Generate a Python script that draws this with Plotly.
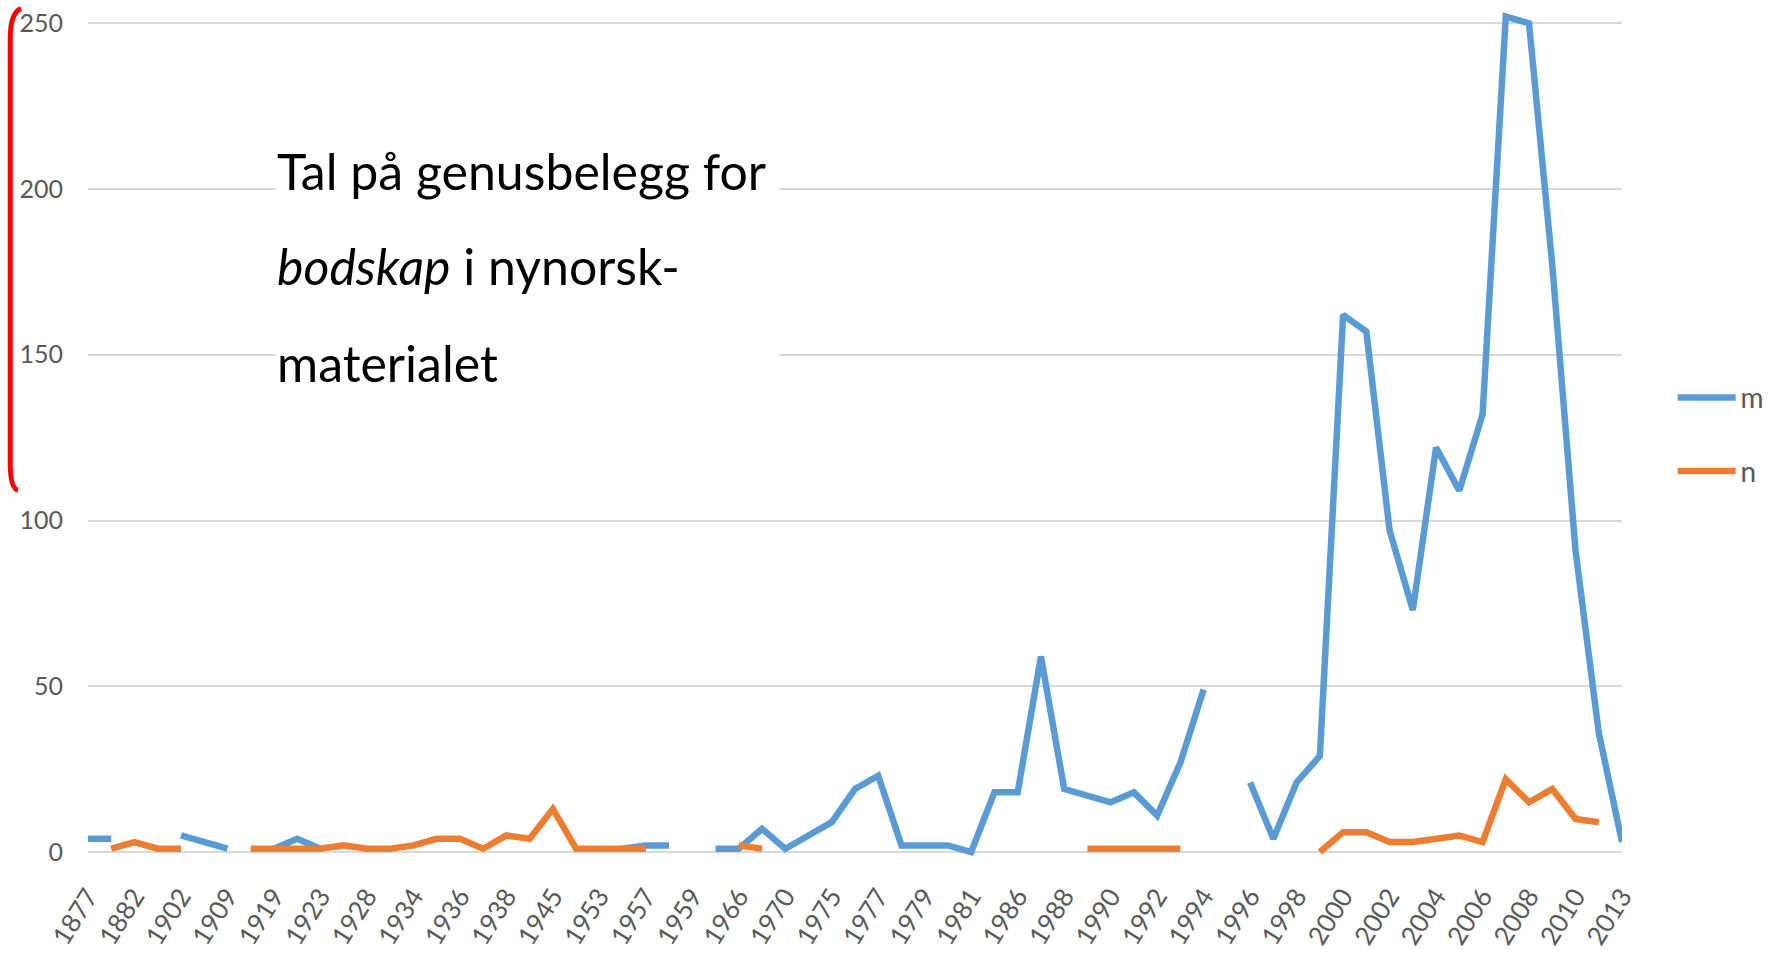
from enum import Enum
import plotly.graph_objects as go


class Color(Enum):
    """
    Office-style colours used in the chart.
    """

    BLUE = "#5B9BD5"
    ORANGE = "#ED7D31"
    GRID = "#D9D9D9"
    LABEL = "#595959"
    RED = "#FF0000"
    BLACK = "#000000"


# ----- Data ----- #
years = [
    "1877", "1880", "1882", "1890", "1902", "1905", "1909", "1912", "1919", "1921",
    "1923", "1925", "1928", "1931", "1934", "1935", "1936", "1937", "1938", "1940",
    "1945", "1950", "1953", "1955", "1957", "1958", "1959", "1962", "1966", "1968",
    "1970", "1973", "1975", "1976", "1977", "1978", "1979", "1980", "1981", "1985",
    "1986", "1987", "1988", "1989", "1990", "1991", "1992", "1993", "1994", "1995",
    "1996", "1997", "1998", "1999", "2000", "2001", "2002", "2003", "2004", "2005",
    "2006", "2007", "2008", "2009", "2010", "2011", "2013",
]

# masculine
m_counts = [
    4, 4, None, None, 5, 3, 1, None, 1, 4,
    1, None, None, None, None, None, None, None, None, None,
    None, None, None, 1, 2, 2, None, 1, 1, 7,
    1, 5, 9, 19, 23, 2, 2, 2, 0, 18,
    18, 59, 19, 17, 15, 18, 11, 27, 49, None,
    21, 4, 21, 29, 162, 157, 97, 73, 122, 109,
    132, 252, 250, 177, 91, 36, 3,
]

# neuter
n_counts = [
    None, 1, 3, 1, 1, None, None, 1, 1, 1,
    1, 2, 1, 1, 2, 4, 4, 1, 5, 4,
    13, 1, 1, 1, 1, None, None, None, 2, 1,
    None, None, None, None, None, None, None, None, None, None,
    None, None, None, 1, 1, 1, 1, 1, None, None,
    None, None, None, 0, 6, 6, 3, 3, 4, 5,
    3, 22, 15, 19, 10, 9, None,
]

y_ticks = [0, 50, 100, 150, 200, 250]

title_lines = [
    "Tal på genusbelegg for",
    "<i>bodskap</i> i nynorsk-",
    "materialet",
]

FONT = "Lato, Open Sans, sans-serif"


def gender_chart() -> go.Figure:
    """
    Line chart of gender attestations for 'bodskap' per year.
    """

    # ----- Plotting ----- #
    fig = go.Figure()

    fig.add_trace(
        go.Scatter(
            x=years,
            y=m_counts,
            mode="lines",
            name="m",
            legendgroup="m",
            line=dict(color=Color.BLUE.value, width=6.5),
            hovertemplate="%{x}: %{y}<extra>m</extra>",
        )
    )

    fig.add_trace(
        go.Scatter(
            x=years,
            y=n_counts,
            mode="lines",
            name="n",
            legendgroup="n",
            line=dict(color=Color.ORANGE.value, width=6.5),
            hovertemplate="%{x}: %{y}<extra>n</extra>",
        )
    )

    # White box behind the title text
    fig.add_shape(
        type="rect",
        xref="paper",
        yref="paper",
        x0=0.1226,
        x1=0.4505,
        y0=0.51,
        y1=0.872,
        fillcolor="white",
        line_width=0,
        layer="above",
    )

    for text, ypos in zip(title_lines, [0.801, 0.690, 0.576]):
        fig.add_annotation(
            text=text,
            xref="paper",
            yref="paper",
            x=0.1222,
            y=ypos,
            xanchor="left",
            yanchor="middle",
            showarrow=False,
            font=dict(family=FONT, size=50, color=Color.BLACK.value),
        )

    # Red slide border at the left edge
    fig.add_shape(
        type="path",
        xref="paper",
        yref="paper",
        path="M -0.0437,0.99 Q -0.0507,0.985 -0.0507,0.955 L -0.0507,0.46 Q -0.0507,0.43 -0.0457,0.428",
        line=dict(color=Color.RED.value, width=5),
    )

    # Formatting
    fig.update_layout(
        width=1772,
        height=965,
        margin=dict(t=0, b=108, l=88, r=150, autoexpand=False),
        plot_bgcolor="white",
        paper_bgcolor="white",
        font=dict(family=FONT, color=Color.LABEL.value, size=26),
        showlegend=True,
        legend=dict(
            x=1.033,
            y=0.565,
            xanchor="left",
            yanchor="top",
            tracegroupgap=34,
            itemwidth=58,
            font=dict(size=28, color=Color.LABEL.value),
            bgcolor="rgba(0,0,0,0)",
        ),
        hovermode="closest",
    )

    fig.update_xaxes(
        type="category",
        tickmode="array",
        tickvals=years[::2],
        ticktext=years[::2],
        tickangle=-58,
        showgrid=False,
        showline=False,
        zeroline=False,
        ticks="",
        ticklabelstandoff=18,
        tickfont=dict(size=26, color=Color.LABEL.value),
    )

    fig.update_yaxes(
        range=[-1.5, 257],
        tickmode="array",
        tickvals=y_ticks,
        showgrid=True,
        gridcolor=Color.GRID.value,
        gridwidth=2,
        zeroline=False,
        showline=False,
        ticks="",
        ticklabelstandoff=24,
        tickfont=dict(size=25, color=Color.LABEL.value),
    )

    return fig


fig = gender_chart()
# drop the browser's default body margin so the figure sits at the page corner
fig.write_html(
    "out.html",
    config={"displayModeBar": False},
    post_script="document.body.style.margin='0px';",
)
